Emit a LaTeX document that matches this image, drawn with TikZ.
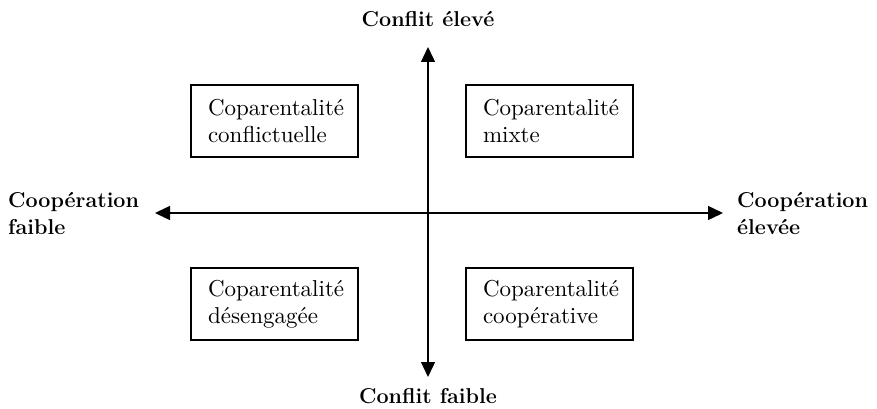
\documentclass[tikz,border=0pt]{standalone}
\usepackage{fontspec}
\newfontfamily\quadfont{lmroman10-regular.otf}
\usepackage{tikz}
\usetikzlibrary{arrows.meta}

\begin{document}
\begin{tikzpicture}[x=1pt,y=-1pt,
  quad/.style={draw,line width=1.1pt,minimum width=167pt,minimum height=72pt,
    inner xsep=17pt,text width=133pt,align=left,
    font=\quadfont\fontsize{23}{27}\selectfont},
  axislabel/.style={font=\fontsize{21.5}{27}\selectfont\bfseries},
  axis/.style={line width=1.4pt,-{Triangle[length=15pt,width=14pt]}}]

\useasboundingbox (0,0) rectangle (877,409);

% axes
\coordinate (centre) at (428,213);
\coordinate (top) at (428,47);
\coordinate (bottom) at (428,377);
\coordinate (left) at (155,213);
\coordinate (right) at (723,213);

\draw[axis] (centre) -- (top);
\draw[axis] (centre) -- (bottom);
\draw[axis] (centre) -- (left);
\draw[axis] (centre) -- (right);

\node[axislabel] (high) at (428,19) {Conflit élevé};
\node[axislabel] (low) at (428,396) {Conflit faible};
\node[axislabel,anchor=west,align=left,inner sep=0pt] (weak) at (8,213) {Coopération\\faible};
\node[axislabel,anchor=west,align=left,inner sep=0pt] (strong) at (737,213) {Coopération\\élevée};

% quadrants
\node[quad] (conflict) at (274.5,121) {Coparentalité\\conflictuelle};
\node[quad] (mixed) at (549.5,121) {Coparentalité\\mixte};
\node[quad] (disengaged) at (274.5,304) {Coparentalité\\désengagée};
\node[quad] (cooperative) at (549.5,304) {Coparentalité\\coopérative};

\end{tikzpicture}
\end{document}
